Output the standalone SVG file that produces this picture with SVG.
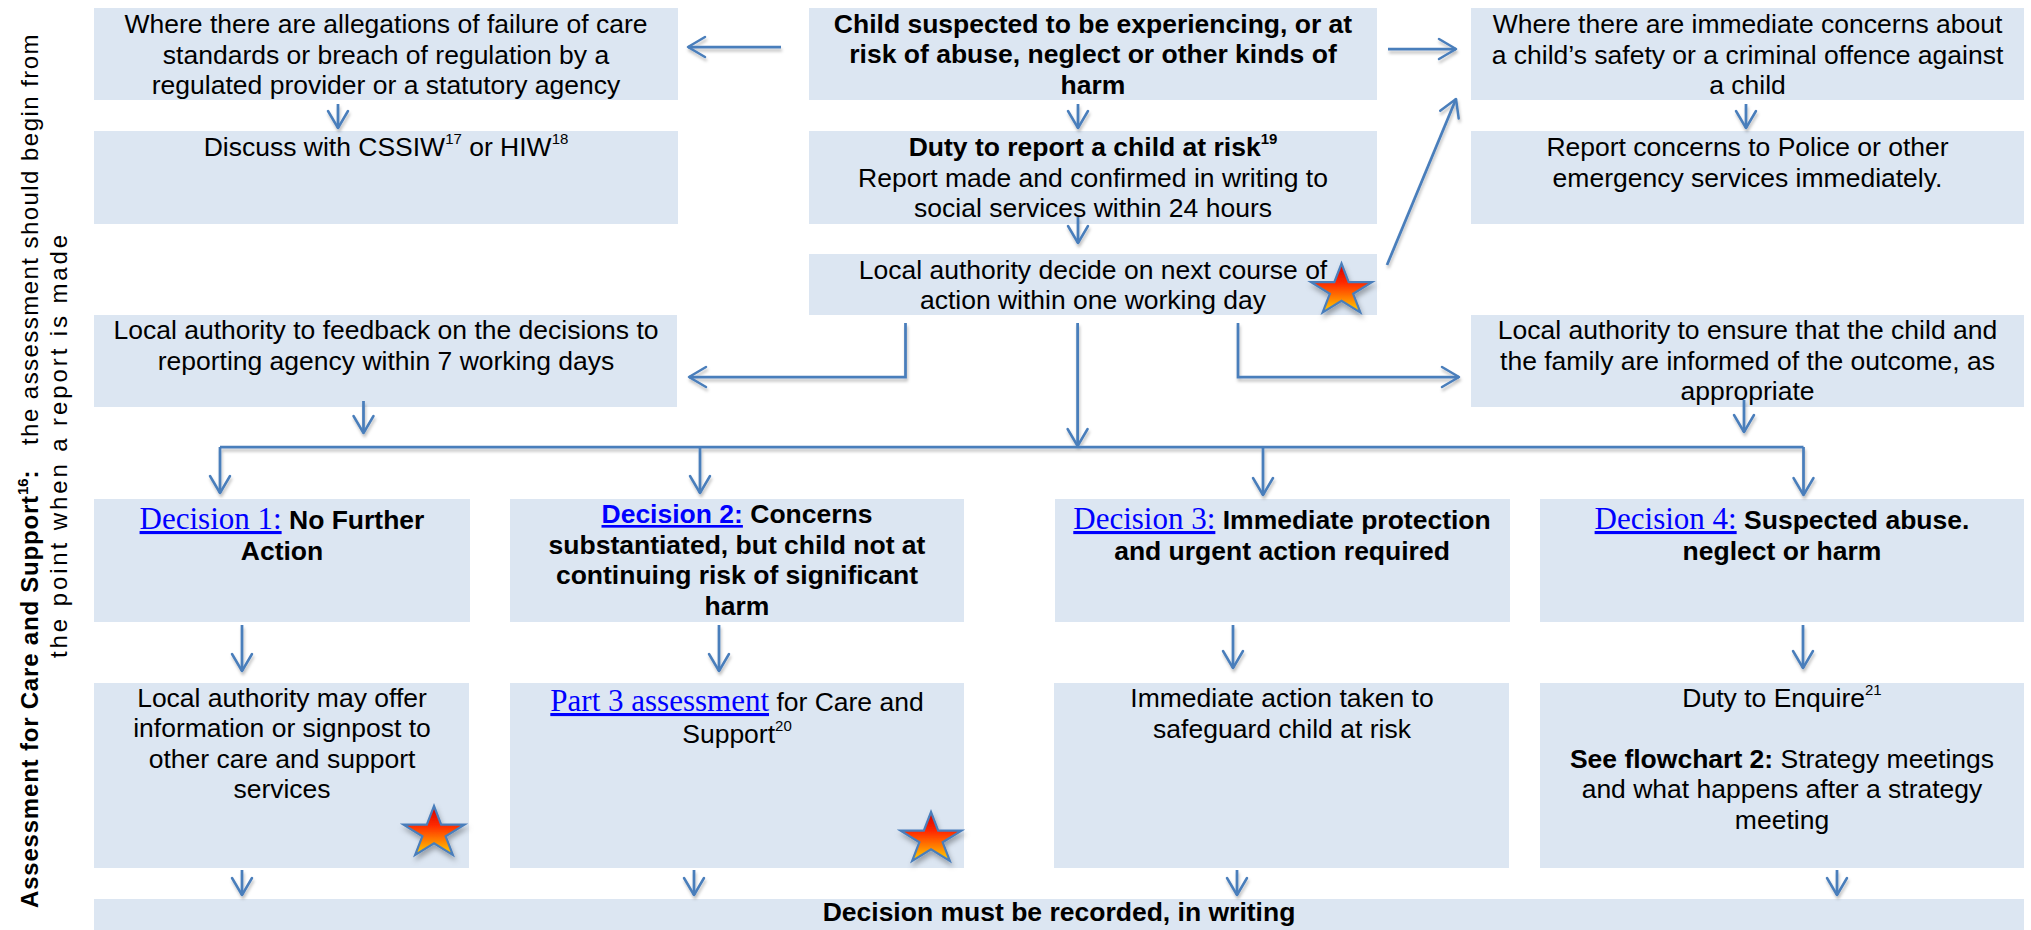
<svg xmlns="http://www.w3.org/2000/svg" width="2031" height="930" viewBox="0 0 2031 930">
<style>
.box{fill:#DCE6F2;}
.t{font-family:"Liberation Sans",Arial,sans-serif;font-size:26.5px;fill:#000;text-anchor:middle;}
.b{font-weight:bold;}
.sup{font-size:15px;}
.lk{font-family:"Liberation Serif","Times New Roman",serif;font-size:31px;fill:#0000FF;text-decoration:underline;font-weight:normal;}
.lkb{fill:#0000FF;text-decoration:underline;font-weight:bold;}
.c{stroke:#4A7EBB;stroke-width:2.75;fill:none;}
.a{marker-end:url(#ah);}
.star{fill:url(#sg);stroke:#4A7EBB;stroke-width:2.2;stroke-linejoin:miter;}
.side{font-family:"Liberation Sans",Arial,sans-serif;font-size:24px;fill:#000;}
</style>
<defs>
<marker id="ah" markerUnits="userSpaceOnUse" viewBox="-22 -13 26 26" markerWidth="26" markerHeight="26" refX="0" refY="0" orient="auto">
<path d="M-17,-10 L0,0 L-17,10" fill="none" stroke="#4A7EBB" stroke-width="2.5" stroke-linejoin="round" stroke-linecap="round"/>
</marker>
<filter id="sh" filterUnits="userSpaceOnUse" x="0" y="0" width="2031" height="930">
<feDropShadow dx="1" dy="3" stdDeviation="1.8" flood-color="#000" flood-opacity="0.25"/>
</filter>
<filter id="shs" x="-40%" y="-40%" width="180%" height="190%">
<feDropShadow dx="1.5" dy="4" stdDeviation="2.5" flood-color="#000" flood-opacity="0.3"/>
</filter>
<linearGradient id="sg" x1="0" y1="0" x2="0" y2="1">
<stop offset="0" stop-color="#D00000"/>
<stop offset="0.4" stop-color="#FF2A00"/>
<stop offset="0.75" stop-color="#FF8C00"/>
<stop offset="1" stop-color="#FFD400"/>
</linearGradient>
<path id="starp" d="M0,-27 L7.18,-8.34 L30.43,-8.34 L11.62,3.19 L18.82,21.84 L0,10.31 L-18.82,21.84 L-11.62,3.19 L-30.43,-8.34 L-7.18,-8.34 Z"/>
</defs>
<rect width="2031" height="930" fill="#FFFFFF"/>

<g id="side-label">
<text class="side" transform="rotate(-90)"><tspan x="-908" y="37.5" font-weight="bold" letter-spacing="0.8">Assessment for Care and Support</tspan><tspan font-weight="bold" font-size="15" dy="-10">16</tspan><tspan font-weight="bold" dy="10">:</tspan><tspan x="-445" letter-spacing="1.45">the assessment should begin from</tspan></text>
<text class="side" transform="rotate(-90)"><tspan x="-658" y="66.5" letter-spacing="2.9">the point when a report is made</tspan></text>
</g>

<g id="node-allegations">
<rect class="box" x="94" y="8" width="584" height="92"/>
<text class="t"><tspan x="386" y="33">Where there are allegations of failure of care</tspan><tspan x="386" y="63.5">standards or breach of regulation by a</tspan><tspan x="386" y="94">regulated provider or a statutory agency</tspan></text>
</g>

<g id="node-child">
<rect class="box" x="809" y="8" width="568" height="92"/>
<text class="t b"><tspan x="1093" y="32.5">Child suspected to be experiencing, or at</tspan><tspan x="1093" y="63">risk of abuse, neglect or other kinds of</tspan><tspan x="1093" y="94">harm</tspan></text>
</g>

<g id="node-immediate">
<rect class="box" x="1471" y="8" width="553" height="92"/>
<text class="t"><tspan x="1747.5" y="33">Where there are immediate concerns about</tspan><tspan x="1747.5" y="63.5">a child’s safety or a criminal offence against</tspan><tspan x="1747.5" y="94">a child</tspan></text>
</g>

<g id="node-discuss">
<rect class="box" x="94" y="131" width="584" height="93"/>
<text class="t" x="386" y="156">Discuss with CSSIW<tspan class="sup" dy="-12">17</tspan><tspan dy="12"> or HIW</tspan><tspan class="sup" dy="-12">18</tspan></text>
</g>

<g id="node-duty">
<rect class="box" x="809" y="131" width="568" height="93"/>
<text class="t b" x="1093" y="156">Duty to report a child at risk<tspan class="sup" dy="-12">19</tspan></text>
<text class="t"><tspan x="1093" y="187">Report made and confirmed in writing to</tspan><tspan x="1093" y="217">social services within 24 hours</tspan></text>
</g>

<g id="node-police">
<rect class="box" x="1471" y="131" width="553" height="93"/>
<text class="t"><tspan x="1747.5" y="156">Report concerns to Police or other</tspan><tspan x="1747.5" y="187">emergency services immediately.</tspan></text>
</g>

<g id="node-decide">
<rect class="box" x="809" y="254" width="568" height="61"/>
<text class="t"><tspan x="1093" y="279">Local authority decide on next course of</tspan><tspan x="1093" y="308.5">action within one working day</tspan></text>
<g filter="url(#shs)"><use href="#starp" class="star" x="1341.5" y="290.5"/></g>
</g>

<g id="node-feedback">
<rect class="box" x="94" y="315" width="583" height="92"/>
<text class="t"><tspan x="386" y="339">Local authority to feedback on the decisions to</tspan><tspan x="386" y="370">reporting agency within 7 working days</tspan></text>
</g>

<g id="node-inform">
<rect class="box" x="1471" y="315" width="553" height="92"/>
<text class="t"><tspan x="1747.5" y="339">Local authority to ensure that the child and</tspan><tspan x="1747.5" y="369.5">the family are informed of the outcome, as</tspan><tspan x="1747.5" y="400">appropriate</tspan></text>
</g>

<g id="node-decision1">
<rect class="box" x="94" y="499" width="376" height="123"/>
<text class="t b" x="282" y="529"><tspan class="lk">Decision 1:</tspan> No Further</text>
<text class="t b" x="282" y="560">Action</text>
</g>

<g id="node-decision2">
<rect class="box" x="510" y="499" width="454" height="123"/>
<text class="t b" x="737" y="523"><tspan class="lkb">Decision 2:</tspan> Concerns</text>
<text class="t b"><tspan x="737" y="553.5">substantiated, but child not at</tspan><tspan x="737" y="584">continuing risk of significant</tspan><tspan x="737" y="614.5">harm</tspan></text>
</g>

<g id="node-decision3">
<rect class="box" x="1055" y="499" width="455" height="123"/>
<text class="t b" x="1282" y="529"><tspan class="lk">Decision 3:</tspan> Immediate protection</text>
<text class="t b" x="1282" y="559.5">and urgent action required</text>
</g>

<g id="node-decision4">
<rect class="box" x="1540" y="499" width="484" height="123"/>
<text class="t b" x="1782" y="529"><tspan class="lk">Decision 4:</tspan> Suspected abuse.</text>
<text class="t b" x="1782" y="559.5">neglect or harm</text>
</g>

<g id="node-signpost">
<rect class="box" x="94" y="683" width="375" height="185"/>
<text class="t"><tspan x="282" y="706.5">Local authority may offer</tspan><tspan x="282" y="737">information or signpost to</tspan><tspan x="282" y="767.5">other care and support</tspan><tspan x="282" y="798">services</tspan></text>
<g filter="url(#shs)"><use href="#starp" class="star" x="434" y="833"/></g>
</g>

<g id="node-part3">
<rect class="box" x="510" y="683" width="454" height="185"/>
<text class="t" x="737" y="711"><tspan class="lk">Part 3 assessment</tspan> for Care and</text>
<text class="t" x="737" y="743">Support<tspan class="sup" dy="-12">20</tspan></text>
<g filter="url(#shs)"><use href="#starp" class="star" x="931" y="839"/></g>
</g>

<g id="node-safeguard">
<rect class="box" x="1054" y="683" width="455" height="185"/>
<text class="t"><tspan x="1282" y="707">Immediate action taken to</tspan><tspan x="1282" y="737.5">safeguard child at risk</tspan></text>
</g>

<g id="node-enquire">
<rect class="box" x="1540" y="683" width="484" height="185"/>
<text class="t" x="1782" y="707">Duty to Enquire<tspan class="sup" dy="-12">21</tspan></text>
<text class="t" x="1782" y="767.5"><tspan class="b">See flowchart 2:</tspan> Strategy meetings</text>
<text class="t"><tspan x="1782" y="798">and what happens after a strategy</tspan><tspan x="1782" y="828.5">meeting</tspan></text>
</g>

<g id="node-recorded">
<rect class="box" x="94" y="899" width="1930" height="31"/>
<text class="t b" x="1059" y="920.5">Decision must be recorded, in writing</text>
</g>

<g id="connectors" filter="url(#sh)">
<path class="c a" d="M781,47 H688"/>
<path class="c a" d="M1388,49 H1456"/>
<path class="c a" d="M338,104 V128"/>
<path class="c a" d="M1078,104 V128"/>
<path class="c a" d="M1078,217 V243"/>
<path class="c a" d="M1746,104 V128"/>
<path class="c a" d="M1387,265 L1456,99"/>
<path class="c a" d="M905.5,323 V377 H689"/>
<path class="c a" d="M1238,323 V377 H1459"/>
<path class="c a" d="M1077.6,323 V446"/>
<path class="c a" d="M363.5,401 V433"/>
<path class="c a" d="M1744,400 V432"/>
<path class="c" d="M220,447 H1803.5"/>
<path class="c a" d="M220,447 V493"/>
<path class="c a" d="M700,447 V493"/>
<path class="c a" d="M1263,447 V495"/>
<path class="c a" d="M1803.5,447 V495"/>
<path class="c a" d="M242,625 V671"/>
<path class="c a" d="M719,625 V671"/>
<path class="c a" d="M1233,625 V668"/>
<path class="c a" d="M1803,625 V668"/>
<path class="c a" d="M242,870 V895"/>
<path class="c a" d="M694,870 V895"/>
<path class="c a" d="M1237,870 V895"/>
<path class="c a" d="M1837,870 V895"/>
</g>
</svg>
